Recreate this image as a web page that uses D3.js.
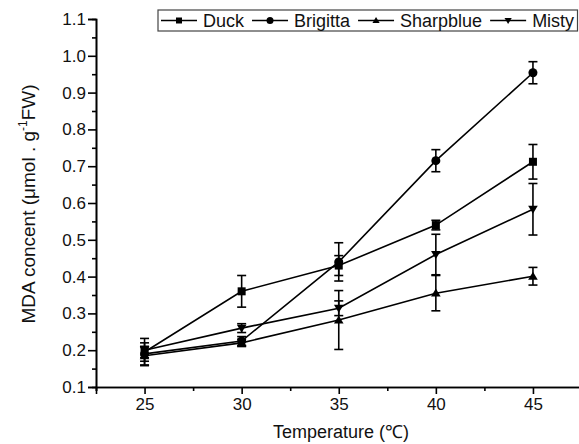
<!DOCTYPE html>
<html>
<head>
<meta charset="utf-8">
<script src="https://cdn.jsdelivr.net/npm/d3@7"></script>
<style>
  body { margin: 0; background: #fff; }
  svg { display: block; font-family: "Liberation Sans", Arial, sans-serif; }
  .eje path, .eje line { stroke: #000; stroke-width: 1.6; }
  .eje text { font-size: 17px; fill: #111; }
</style>
</head>
<body>
<svg id="graph"></svg>
<script>
// datos
var temps = [25, 30, 35, 40, 45];
var duck = [0.195, 0.36, 0.43, 0.54, 0.712];
var duckErr = [0.037, 0.043, 0.027, 0.013, 0.047];
var brigitta = [0.19, 0.225, 0.44, 0.715, 0.954];
var brigittaErr = [0.02, 0.012, 0.052, 0.03, 0.03];
var sharpblue = [0.185, 0.22, 0.282, 0.355, 0.401];
var sharpblueErr = [0.025, 0.01, 0.08, 0.048, 0.024];
var misty = [0.2, 0.26, 0.314, 0.46, 0.583];
var mistyErr = [0.02, 0.012, 0.02, 0.055, 0.07];
var yTicks = [0.1, 0.2, 0.3, 0.4, 0.5, 0.6, 0.7, 0.8, 0.9, 1.0, 1.1];
var xTicks = [25, 30, 35, 40, 45];

var series = [
  { nombre: "Duck", valores: duck, errores: duckErr, simbolo: "square" },
  { nombre: "Brigitta", valores: brigitta, errores: brigittaErr, simbolo: "circle" },
  { nombre: "Sharpblue", valores: sharpblue, errores: sharpblueErr, simbolo: "up" },
  { nombre: "Misty", valores: misty, errores: mistyErr, simbolo: "down" }
];

var config = { width: 579, height: 444, left: 96, right: 581.5, top: 19, bottom: 387 };

var svg = d3.select("#graph")
    .attr("width", config.width)
    .attr("height", config.height);

var x = d3.scaleLinear().domain([22.5, 47.5]).range([config.left, config.right]);
var y = d3.scaleLinear().domain([0.1, 1.1]).range([config.bottom, config.top]);

// ejes
var ejeX = d3.axisBottom(x).tickValues(xTicks).tickSize(7).tickPadding(4).tickFormat(d3.format("d"));
var ejeXmenor = d3.axisBottom(x).tickValues([22.5, 27.5, 32.5, 37.5, 42.5]).tickSize(4).tickFormat("");
var ejeY = d3.axisLeft(y).tickValues(yTicks).tickSize(8).tickPadding(2).tickFormat(d3.format(".1f"));
var ejeYmenor = d3.axisLeft(y).tickValues(d3.range(0.15, 1.1, 0.1)).tickSize(4).tickFormat("");

svg.append("g").attr("class", "eje")
    .attr("transform", "translate(0," + config.bottom + ")")
    .call(ejeXmenor);
svg.append("g").attr("class", "eje")
    .attr("transform", "translate(0," + config.bottom + ")")
    .call(ejeX);
svg.append("g").attr("class", "eje")
    .attr("transform", "translate(" + config.left + ",0)")
    .call(ejeYmenor);
svg.append("g").attr("class", "eje")
    .attr("transform", "translate(" + config.left + ",0)")
    .call(ejeY);
svg.selectAll(".eje .domain").attr("stroke-width", 2);

// titulos de ejes
svg.append("text")
    .attr("x", 341).attr("y", 438)
    .attr("text-anchor", "middle")
    .style("font-size", "18px").style("fill", "#111")
    .text("Temperature (\u2103)");

var ylab = svg.append("text")
    .attr("transform", "translate(35,204) rotate(-90)")
    .attr("text-anchor", "middle")
    .style("font-size", "19px").style("fill", "#111");
ylab.append("tspan").text("MDA concent (\u03bcmol . g");
ylab.append("tspan").attr("dy", -8).style("font-size", "12px").text("-1");
ylab.append("tspan").attr("dy", 8).text("FW)");

function simbolo(g, tipo, cx, cy, s) {
  if (tipo === "square") {
    g.append("rect").attr("x", cx - s / 2).attr("y", cy - s / 2).attr("width", s).attr("height", s).attr("fill", "#000");
  } else if (tipo === "circle") {
    g.append("circle").attr("cx", cx).attr("cy", cy).attr("r", s / 2 + 0.5).attr("fill", "#000");
  } else if (tipo === "up") {
    var h = s * 0.95;
    g.append("path").attr("d", "M" + cx + "," + (cy - h * 0.6) + "L" + (cx + s * 0.6) + "," + (cy + h * 0.45) + "L" + (cx - s * 0.6) + "," + (cy + h * 0.45) + "Z").attr("fill", "#000");
  } else {
    var h2 = s * 0.95;
    g.append("path").attr("d", "M" + cx + "," + (cy + h2 * 0.6) + "L" + (cx + s * 0.6) + "," + (cy - h2 * 0.45) + "L" + (cx - s * 0.6) + "," + (cy - h2 * 0.45) + "Z").attr("fill", "#000");
  }
}

var linea = d3.line()
    .x(function(d) { return x(d[0]); })
    .y(function(d) { return y(d[1]); });

series.forEach(function(s) {
  var g = svg.append("g");
  var pts = temps.map(function(t, i) { return [t, s.valores[i], s.errores[i]]; });
  // barras de error
  pts.forEach(function(p) {
    var x0 = x(p[0]), y1 = y(p[1] + p[2]), y2 = y(p[1] - p[2]);
    g.append("line").attr("x1", x0).attr("x2", x0).attr("y1", y1).attr("y2", y2).attr("stroke", "#000").attr("stroke-width", 1.6);
    g.append("line").attr("x1", x0 - 4.5).attr("x2", x0 + 4.5).attr("y1", y1).attr("y2", y1).attr("stroke", "#000").attr("stroke-width", 1.6);
    g.append("line").attr("x1", x0 - 4.5).attr("x2", x0 + 4.5).attr("y1", y2).attr("y2", y2).attr("stroke", "#000").attr("stroke-width", 1.6);
  });
  g.append("path").datum(pts).attr("d", linea)
      .attr("fill", "none").attr("stroke", "#000").attr("stroke-width", 1.6);
  pts.forEach(function(p) { simbolo(g, s.simbolo, x(p[0]), y(p[1]), 8); });
});

// leyenda
var leyenda = svg.append("g");
leyenda.append("rect")
    .attr("x", 158).attr("y", 10).attr("width", 419.5).attr("height", 21)
    .attr("fill", "#fff").attr("stroke", "#444").attr("stroke-width", 1.2);
var lx = 161;
series.forEach(function(s) {
  var ly = 20.5;
  leyenda.append("line").attr("x1", lx).attr("x2", lx + 36).attr("y1", ly).attr("y2", ly)
      .attr("stroke", "#000").attr("stroke-width", 1.6);
  simbolo(leyenda, s.simbolo, lx + 18, ly, 6);
  var t = leyenda.append("text").attr("x", lx + 42).attr("y", ly + 6.5)
      .style("font-size", "18px").style("fill", "#111").text(s.nombre);
  lx += 42 + t.node().getComputedTextLength() + 8;
});
</script>
</body>
</html>
